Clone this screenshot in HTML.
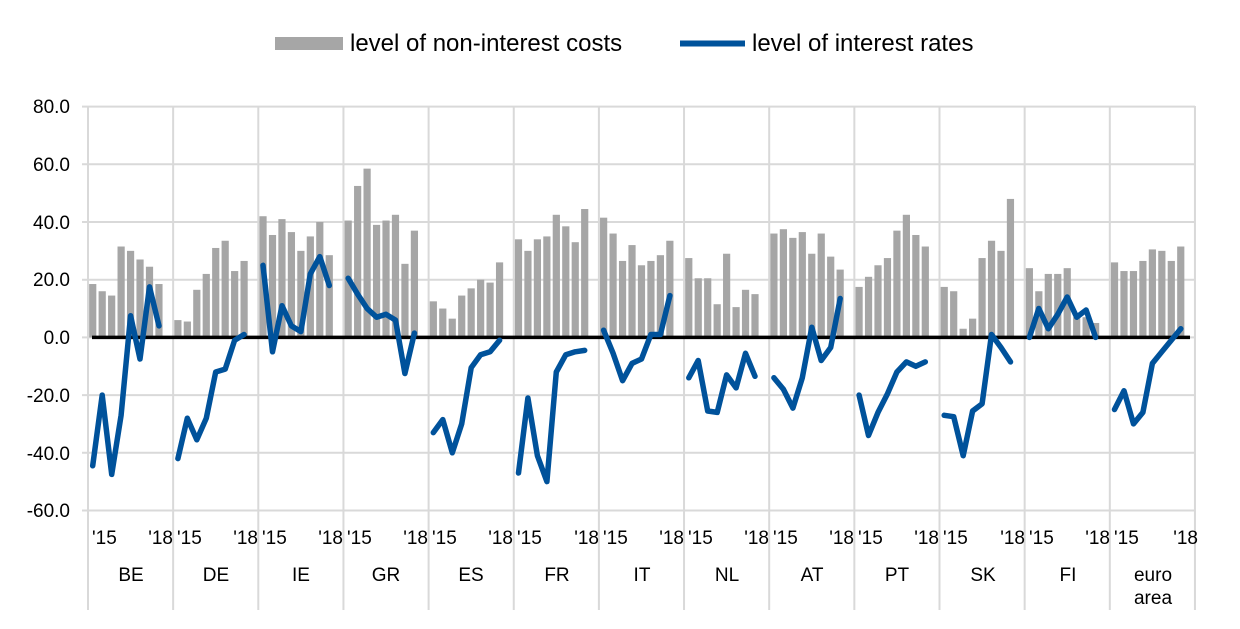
<!DOCTYPE html>
<html><head><meta charset="utf-8"><style>
html,body{margin:0;padding:0;background:#fff;}
svg{display:block;font-family:"Liberation Sans",Arial,sans-serif;}
</style></head><body>
<svg id="c" width="1240" height="629" viewBox="0 0 1240 629" xmlns="http://www.w3.org/2000/svg">
<g id="grid"></g>
<g id="bars"></g>
<line x1="92" y1="337.4" x2="1190" y2="337.4" stroke="#000" stroke-width="3.5"/>
<g id="lines"></g>
<g font-size="19" fill="#000" text-anchor="end">
<text x="70" y="113">80.0</text><text x="70" y="171">60.0</text><text x="70" y="229">40.0</text><text x="70" y="286">20.0</text><text x="70" y="344">0.0</text><text x="70" y="402">-20.0</text><text x="70" y="460">-40.0</text><text x="70" y="517">-60.0</text>
</g>
<g font-size="19" fill="#000" text-anchor="start">
<text x="92" y="544">'15</text><text x="177" y="544">'15</text><text x="262" y="544">'15</text><text x="347" y="544">'15</text><text x="432" y="544">'15</text><text x="517" y="544">'15</text><text x="603" y="544">'15</text><text x="688" y="544">'15</text><text x="773" y="544">'15</text><text x="858" y="544">'15</text><text x="943" y="544">'15</text><text x="1029" y="544">'15</text><text x="1114" y="544">'15</text>
</g>
<g font-size="19" fill="#000" text-anchor="end">
<text x="173" y="544">'18</text><text x="258" y="544">'18</text><text x="343" y="544">'18</text><text x="428" y="544">'18</text><text x="513" y="544">'18</text><text x="599" y="544">'18</text><text x="684" y="544">'18</text><text x="769" y="544">'18</text><text x="854" y="544">'18</text><text x="939" y="544">'18</text><text x="1025" y="544">'18</text><text x="1110" y="544">'18</text><text x="1198" y="544">'18</text>
</g>
<g font-size="19" fill="#000" text-anchor="middle">
<text x="131" y="581">BE</text><text x="216" y="581">DE</text><text x="301" y="581">IE</text><text x="386" y="581">GR</text><text x="471" y="581">ES</text><text x="557" y="581">FR</text><text x="642" y="581">IT</text><text x="727" y="581">NL</text><text x="812" y="581">AT</text><text x="897" y="581">PT</text><text x="983" y="581">SK</text><text x="1068" y="581">FI</text>
<text x="1153" y="581">euro</text><text x="1153" y="604">area</text>
</g>
<rect x="275" y="37" width="68" height="13" fill="#a6a6a6"/>
<text x="350" y="51" font-size="24">level of non-interest costs</text>
<line x1="680" y1="43.5" x2="745" y2="43.5" stroke="#00529b" stroke-width="6"/>
<text x="752" y="51" font-size="24">level of interest rates</text>
</svg>
<script>
var NS="http://www.w3.org/2000/svg";
function el(p,t,a){var e=document.createElementNS(NS,t);for(var k in a)e.setAttribute(k,a[k]);document.getElementById(p).appendChild(e);}
var x0=88,gw=85.15,sw=gw/9;
function Y(v){return 337.4-v*2.885;}
for(var v=-60;v<=80;v+=20){el("grid","line",{x1:82,x2:1195,y1:Y(v),y2:Y(v),stroke:"#d9d9d9","stroke-width":2});}
for(var i=0;i<=13;i++){var x=x0+i*gw;el("grid","line",{x1:x,x2:x,y1:106,y2:610,stroke:"#d9d9d9","stroke-width":2});}
var B=[[18.5,16,14.5,31.5,30,27,24.5,18.5],[6,5.5,16.5,22,31,33.5,23,26.5],[42,35.5,41,36.5,30,35,40,28.5],[40.5,52.5,58.5,39,40.5,42.5,25.5,37],[12.5,10,6.5,14.5,17,20,19,26],[34,30,34,35,42.5,38.5,33,44.5],[41.5,36,26.5,32,25,26.5,28.5,33.5],[27.5,20.5,20.5,11.5,29,10.5,16.5,15],[36,37.5,34.5,36.5,29,36,28,23.5],[17.5,21,25,27.5,37,42.5,35.5,31.5],[17.5,16,3,6.5,27.5,33.5,30,48],[24,16,22,22,24,7,7,5],[26,23,23,26.5,30.5,30,26.5,31.5]];
var L=[[-44.5,-20,-47.5,-27,7.5,-7.5,17.5,4],[-42,-28,-35.5,-28,-12,-11,-1,1],[25,-5,11,4,2,22,28,18],[20.5,15,10,7,8,6,-12.5,1.5],[-33,-28.5,-40,-30,-10.5,-6,-5,-1],[-47,-21,-41,-50,-12,-6,-5,-4.5],[2.5,-5.5,-15,-9,-7.5,1,1,14.5],[-14,-8,-25.5,-26,-13,-17.5,-5.5,-13.5],[-14,-18,-24.5,-14,3.5,-8,-3.5,13.5],[-20,-34,-26,-19.5,-12,-8.5,-10,-8.5],[-27,-27.5,-41,-25.5,-23,1,-3.5,-8.5],[0,10,3,8,14,7,9.5,0],[-25,-18.5,-30,-26,-9,-5,-1,3]];
for(var g=0;g<13;g++){var pts=[];for(var j=0;j<8;j++){var cx=x0+g*gw+sw*(j+0.5);var v=B[g][j];el("bars","rect",{x:cx-3.6,y:Y(v),width:7.2,height:337.4-Y(v),fill:"#a6a6a6"});pts.push(cx.toFixed(1)+","+Y(L[g][j]).toFixed(1));}
el("lines","polyline",{points:pts.join(" "),fill:"none",stroke:"#00529b","stroke-width":5.5,"stroke-linejoin":"round","stroke-linecap":"round"});}
</script>
</body></html>
